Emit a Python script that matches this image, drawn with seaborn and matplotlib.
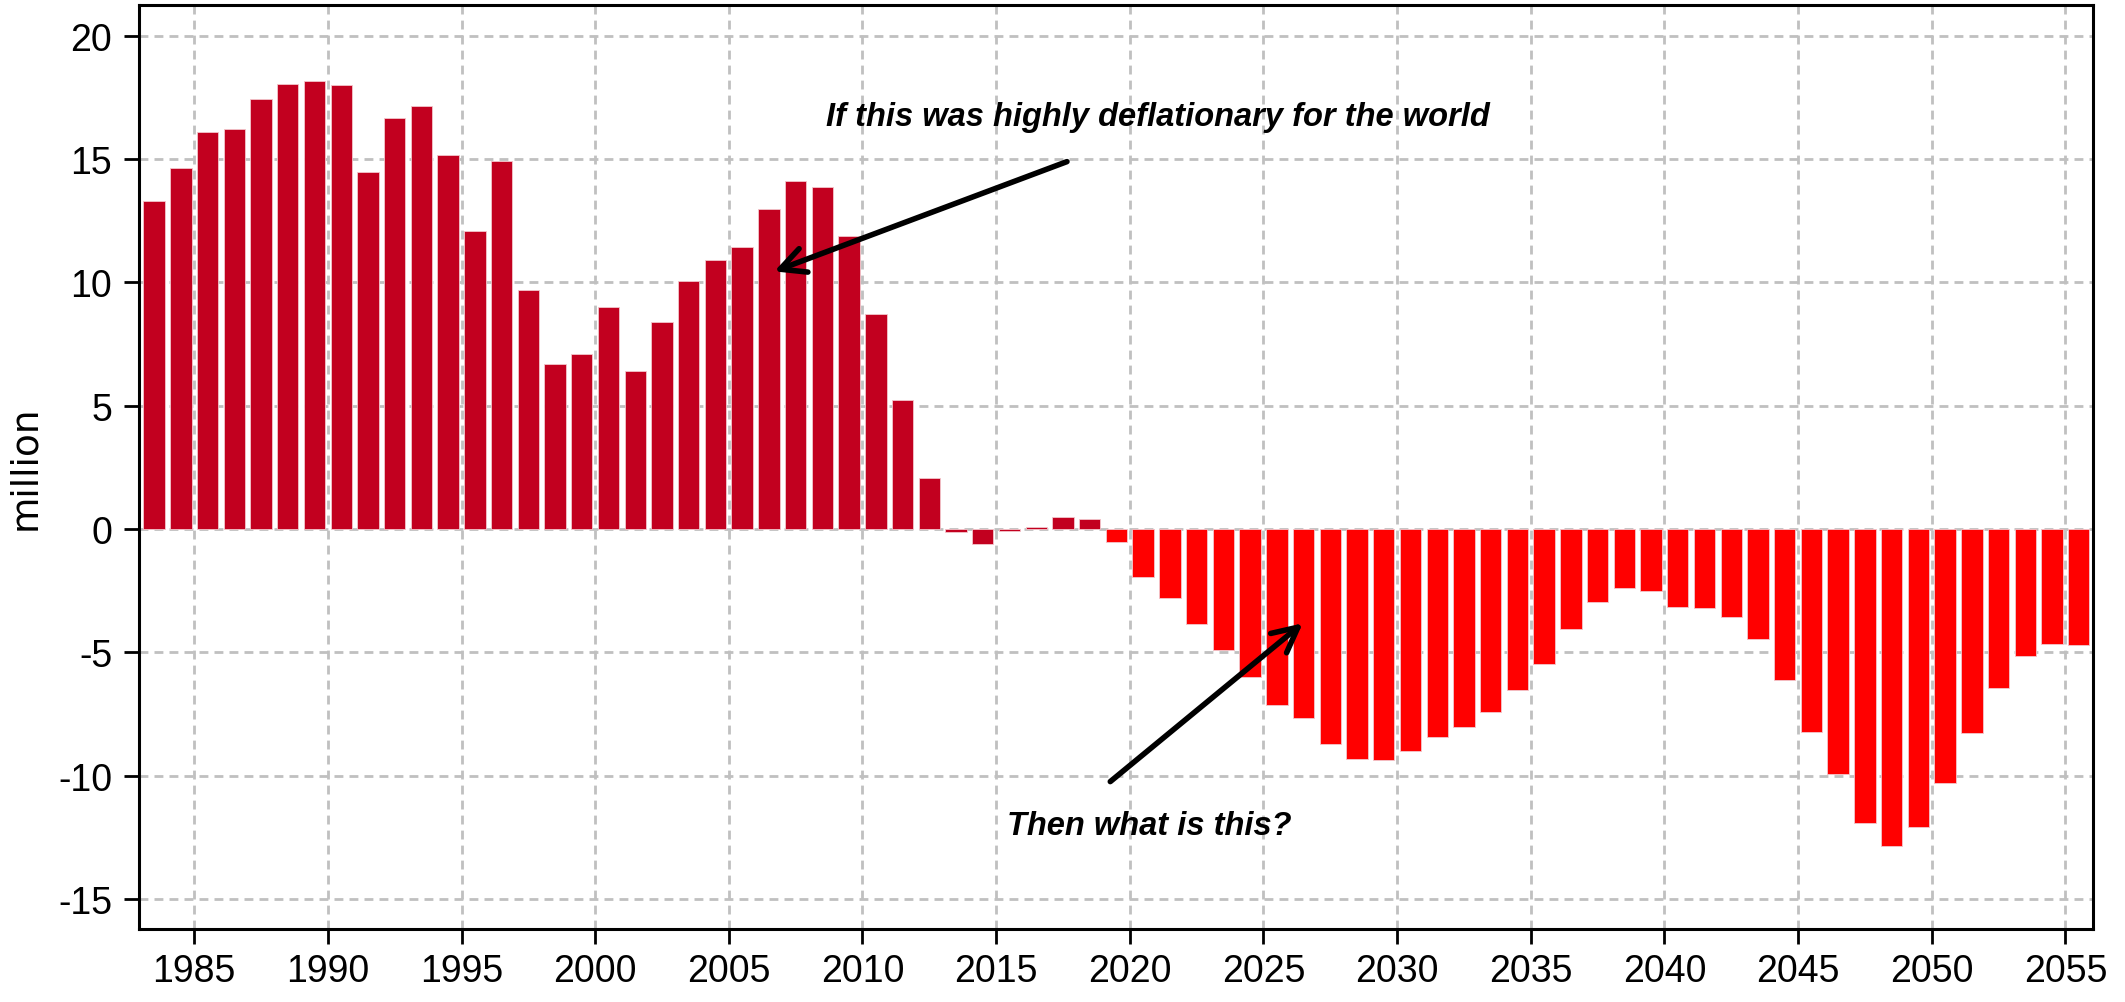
# Working-age population change, actual vs projected (million)
import numpy as np
import pandas as pd
import seaborn as sns
import matplotlib.pyplot as plt

# Data
years = list(range(1984, 2057))
values = [13.30, 14.64, 16.12, 16.22, 17.45, 18.06, 18.16, 18.00, 14.46, 16.65,
          17.14, 15.17, 12.07, 14.94, 9.68, 6.71, 7.10, 9.00, 6.42, 8.38,
          10.06, 10.90, 11.45, 12.97, 14.13, 13.88, 11.87, 8.71, 5.22, 2.06,
          -0.10, -0.61, -0.06, 0.07, 0.49, 0.39, -0.54, -1.96, -2.80, -3.83,
          -4.89, -6.01, -7.13, -7.67, -8.73, -9.34, -9.36, -9.01, -8.44, -8.02,
          -7.40, -6.52, -5.48, -4.06, -2.96, -2.38, -2.50, -3.14, -3.21, -3.55,
          -4.45, -6.13, -8.21, -9.93, -11.92, -12.84, -12.07, -10.31, -8.27, -6.43,
          -5.13, -4.67, -4.71]
first_projection = 2020
x_ticks = list(range(1985, 2056, 5))
y_ticks = list(range(-15, 21, 5))

df = pd.DataFrame({"year": years, "value": values})
df["period"] = np.where(df.year < first_projection, "actual", "projection")
# each bar sits on the interval before its year label
df["pos"] = df.year - 0.5

sns.set_theme(style="white")
plt.rcParams["font.family"] = ["Liberation Sans", "DejaVu Sans"]
plt.rcParams["axes.unicode_minus"] = False
plt.rcParams["text.color"] = "black"

fig = plt.figure(figsize=(21.25, 10.03), dpi=100)
ax = fig.add_axes([0.0656, 0.0732, 0.9193, 0.9208])

sns.barplot(data=df, x="pos", y="value", hue="period", native_scale=True,
            dodge=False, width=0.8, errorbar=None, legend=False, saturation=1,
            palette={"actual": "#C2001F", "projection": "#FF0000"},
            edgecolor="#f3c6cc", linewidth=0.6, ax=ax, zorder=3)

ax.set_xlim(1982.95, 2056.03)
ax.set_ylim(-16.2, 21.25)
ax.set_xticks(x_ticks)
ax.set_xticklabels([str(t) for t in x_ticks])
ax.set_yticks(y_ticks)
ax.set_yticklabels([str(t) for t in y_ticks])
ax.set_xlabel("")
lab = ax.set_ylabel("million")
lab.set_fontsize(27)
lab.set_fontfamily("DejaVu Sans")
lab.set_color("black")
ax.yaxis.set_label_coords(-0.0495, 0.5)

ax.grid(True, color="#c0c0c0", linewidth=2, linestyle=(0, (3.2, 2.2)), zorder=0)
ax.set_axisbelow(True)
for s in ax.spines.values():
    s.set_visible(True)
    s.set_color("black")
    s.set_linewidth(2.2)
ax.tick_params(axis="both", which="major", direction="out", length=10.5,
               width=2, color="black", labelsize=27, labelcolor="black",
               bottom=True, left=True)
ax.tick_params(axis="y", pad=9)
ax.tick_params(axis="x", pad=7)

# annotations
ax.text(2008.64, 16.74, "If this was highly deflationary for the world",
        fontsize=23.5, fontweight="bold", fontstyle="italic", color="black",
        ha="left", va="center", zorder=5)
ax.annotate("", xy=(2006.7, 10.45), xytext=(2017.65, 14.9),
            arrowprops=dict(arrowstyle="->", lw=4, color="black",
                            mutation_scale=45, shrinkA=0, shrinkB=0), zorder=5)
ax.text(2015.42, -12.04, "Then what is this?",
        fontsize=23.5, fontweight="bold", fontstyle="italic", color="black",
        ha="left", va="center", zorder=5)
ax.annotate("", xy=(2026.47, -3.82), xytext=(2019.27, -10.24),
            arrowprops=dict(arrowstyle="->", lw=4, color="black",
                            mutation_scale=45, shrinkA=0, shrinkB=0), zorder=5)

fig.savefig("out.png", dpi=100)
